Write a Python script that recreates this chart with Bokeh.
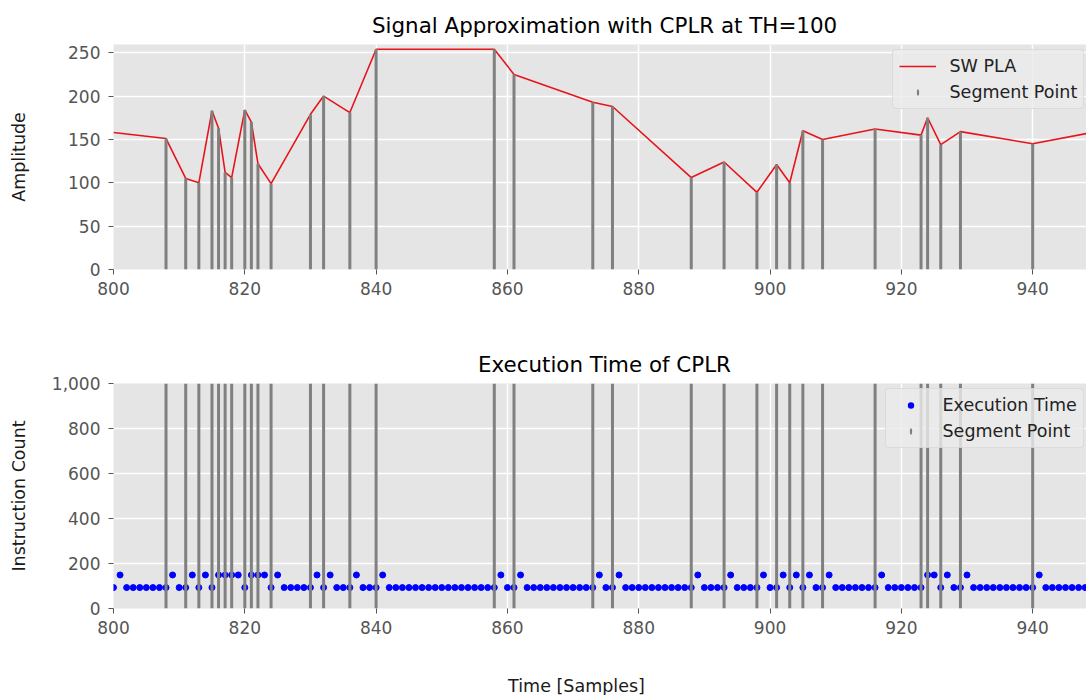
from bokeh.plotting import figure
from bokeh.layouts import column
from bokeh.models import Legend, LegendItem, Label, NumeralTickFormatter, Range1d
from bokeh.embed import file_html
from bokeh.resources import INLINE

FONT = "DejaVu Sans"

# ---- data ----
pla_x = [800, 808, 811, 813, 815, 816, 817, 818, 820, 821, 822, 824, 830, 832, 836, 840,
         858, 861, 873, 876, 888, 893, 898, 901, 903, 905, 908, 916, 923, 924, 926, 929, 940, 949]
pla_y = [158, 151, 105, 100, 183, 163, 112, 106, 184, 170, 122, 99, 179, 200, 181, 254,
         254, 225, 193, 188, 106, 124, 89, 121, 100, 160, 150, 162, 155, 175, 144, 159, 145, 158]

samples = list(range(800, 950))
exec_time = [
    93, 149, 93, 93, 93, 93, 93, 93, 93, 149,
    93, 93, 149, 93, 149, 93, 149, 149, 149, 149,
    93, 149, 149, 149, 93, 149, 93, 93, 93, 93,
    93, 149, 93, 149, 93, 93, 93, 149, 93, 93,
    93, 149, 93, 93, 93, 93, 93, 93, 93, 93,
    93, 93, 93, 93, 93, 93, 93, 93, 93, 149,
    93, 93, 149, 93, 93, 93, 93, 93, 93, 93,
    93, 93, 93, 93, 149, 93, 93, 149, 93, 93,
    93, 93, 93, 93, 93, 93, 93, 93, 93, 149,
    93, 93, 93, 93, 149, 93, 93, 93, 93, 149,
    93, 93, 149, 93, 149, 93, 149, 93, 93, 149,
    93, 93, 93, 93, 93, 93, 93, 149, 93, 93,
    93, 93, 93, 93, 149, 149, 93, 149, 93, 93,
    149, 93, 93, 93, 93, 93, 93, 93, 93, 93,
    93, 149, 93, 93, 93, 93, 93, 93, 93, 93,
]

seg_x = pla_x[1:-1]
seg_amp = pla_y[1:-1]

x_ticks = [800, 820, 840, 860, 880, 900, 920, 940]
amp_ticks = [0, 50, 100, 150, 200, 250]
cnt_ticks = [0, 200, 400, 600, 800, 1000]

X_MIN, X_MAX = 800, 948.2
AMP_MAX = 259.5
CNT_MAX = 1000

BG = "#E5E5E5"
TICK_COL = "#555555"
NAN = float("nan")


def style(p, yticks, ylabel, label_standoff, title_offset):
    p.background_fill_color = BG
    p.border_fill_color = "white"
    p.outline_line_color = None
    p.title.text_font = FONT
    p.title.text_font_size = "21.4px"
    p.title.text_font_style = "normal"
    p.title.text_color = "black"
    p.title.align = "left"
    p.title.offset = title_offset
    p.title.standoff = 13
    p.xaxis.ticker = x_ticks
    p.yaxis.ticker = yticks
    for ax in (p.xaxis[0], p.yaxis[0]):
        ax.axis_line_color = None
        ax.major_tick_line_color = TICK_COL
        ax.major_tick_in = 0
        ax.major_tick_out = 5
        ax.minor_tick_line_color = None
        ax.major_label_text_font = FONT
        ax.major_label_text_font_size = "17px"
        ax.major_label_text_color = TICK_COL
    p.xaxis.major_label_standoff = 7
    p.yaxis.major_label_standoff = 8
    p.yaxis.axis_label = ylabel
    p.yaxis.axis_label_text_font = FONT
    p.yaxis.axis_label_text_font_size = "17.5px"
    p.yaxis.axis_label_text_font_style = "normal"
    p.yaxis.axis_label_text_color = "#1a1a1a"
    p.yaxis.axis_label_standoff = label_standoff
    for g in (p.xgrid[0], p.ygrid[0]):
        g.grid_line_color = "white"
        g.grid_line_width = 1.5


def make_legend(items, loc):
    return Legend(items=items, location=loc, margin=0, padding=6, spacing=6,
                  glyph_width=37, glyph_height=8, label_height=20, label_standoff=14,
                  label_text_font=FONT, label_text_font_size="17.5px", label_text_color="#222222",
                  background_fill_color="#EBEBEB", background_fill_alpha=0.8,
                  border_line_color="#CCCCCC", border_line_width=1, border_radius=4)


def bar_proxy(p):
    # legend-only glyph: thin vertical bar like matplotlib's vlines handle
    return p.ellipse(x=[NAN], y=[NAN], width=2.5, height=7, width_units="screen",
                     height_units="screen", fill_color="gray", line_color=None)


# ---- top plot ----
p1 = figure(width=1086, height=330, x_range=Range1d(X_MIN, X_MAX), y_range=Range1d(0, AMP_MAX),
            output_backend="svg", toolbar_location=None,
            min_border_left=113, min_border_right=0, min_border_top=44, min_border_bottom=61,
            title="Signal Approximation with CPLR at TH=100")
style(p1, amp_ticks, "Amplitude", 36, 258.5)
r_line = p1.line(pla_x, pla_y, line_color="#E8141A", line_width=1.6)
p1.segment(x0=seg_x, y0=[0] * len(seg_x), x1=seg_x, y1=seg_amp, line_color="gray", line_width=3)
r_seg1 = bar_proxy(p1)
leg1 = make_legend([LegendItem(label="SW PLA", renderers=[r_line]),
                    LegendItem(label="Segment Point", renderers=[r_seg1])], (778.5, 160))
p1.add_layout(leg1)

# ---- bottom plot ----
p2 = figure(width=1086, height=318, x_range=Range1d(X_MIN, X_MAX), y_range=Range1d(0, CNT_MAX),
            output_backend="svg", toolbar_location=None,
            min_border_left=113, min_border_right=0, min_border_top=53, min_border_bottom=40,
            title="Execution Time of CPLR")
style(p2, cnt_ticks, "Instruction Count", 20, 364.5)
p2.yaxis.formatter = NumeralTickFormatter(format="0,0")
p2.scatter(samples, exec_time, size=6, color="#0000FF")
p2.segment(x0=seg_x, y0=[0] * len(seg_x), x1=seg_x, y1=[CNT_MAX] * len(seg_x),
           line_color="gray", line_width=3)
r_dot2 = p2.ellipse(x=[NAN], y=[NAN], width=6, height=6, width_units="screen",
                    height_units="screen", fill_color="#0000FF", line_color=None)
r_seg2 = bar_proxy(p2)
leg2 = make_legend([LegendItem(label="Execution Time", renderers=[r_dot2]),
                    LegendItem(label="Segment Point", renderers=[r_seg2])], (771.5, 160))
p2.add_layout(leg2)

# ---- shared x label strip (figure-level label, like matplotlib's supxlabel) ----
p3 = figure(width=1086, height=47, x_range=Range1d(0, 1), y_range=Range1d(0, 1),
            output_backend="svg", toolbar_location=None, x_axis_type=None, y_axis_type=None,
            min_border_left=0, min_border_right=0, min_border_top=0, min_border_bottom=0)
p3.outline_line_color = None
p3.xgrid.visible = False
p3.ygrid.visible = False
p3.background_fill_color = "white"
p3.border_fill_color = "white"
p3.add_layout(Label(x=463, y=10, x_units="screen", y_units="screen", text="Time [Samples]",
                    text_align="center", text_baseline="middle", text_font=FONT,
                    text_font_size="17.5px", text_color="#1a1a1a"))

layout = column(p1, p2, p3)
open("out.html", "w").write(file_html(layout, INLINE))
